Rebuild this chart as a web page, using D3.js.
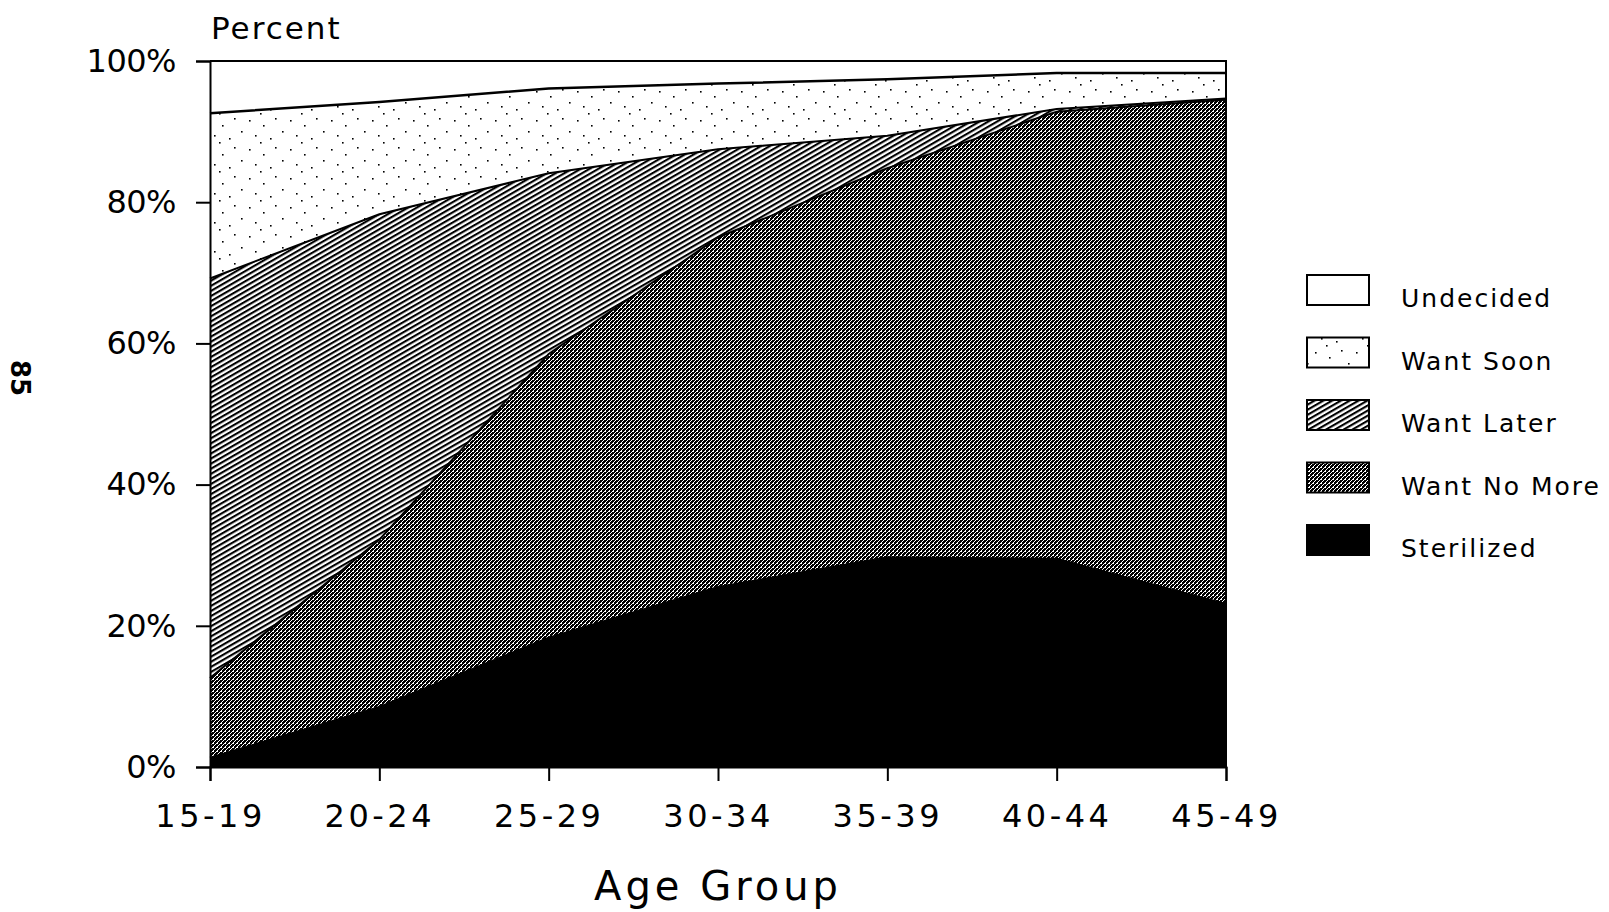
<!DOCTYPE html>
<html>
<head>
<meta charset="utf-8">
<script src="https://cdn.jsdelivr.net/npm/d3@7/dist/d3.min.js"></script>
<style>
  body { margin: 0; background: #fff; }
  text { font-family: "DejaVu Sans", sans-serif; fill: #000; }
</style>
</head>
<body>
<script>
// age groups along the x axis
const ageGroups = ["15-19", "20-24", "25-29", "30-34", "35-39", "40-44", "45-49"];

// percent of women in each group
const sterilized = [1.3, 8.5, 18.3, 25.5, 29.7, 29.5, 23.1];
const wantNoMore = [11.3, 23.7, 40.2, 49.5, 55.1, 63.3, 71.4];
const wantLater  = [56.6, 46.1, 25.6, 12.5, 4.6, 0.4, 0.2];
const wantSoon   = [23.4, 15.9, 12.0, 9.3, 8.0, 5.1, 3.6];
const undecided  = [7.4, 5.8, 3.9, 3.2, 2.6, 1.7, 1.7];

const categories = ["Sterilized", "Want No More", "Want Later", "Want Soon", "Undecided"];
const yTicks = [0, 20, 40, 60, 80, 100];

const series = {
  "Sterilized": sterilized,
  "Want No More": wantNoMore,
  "Want Later": wantLater,
  "Want Soon": wantSoon,
  "Undecided": undecided
};
const table = ageGroups.map((age, i) => {
  const row = {age: age};
  categories.forEach(c => row[c] = series[c][i]);
  return row;
});

const width = 1609;
const height = 912;
const plot = {left: 210, right: 1226, top: 61, bottom: 767};

const svg = d3.select("body").append("svg")
  .attr("width", width)
  .attr("height", height);

// fill patterns, mimicking the black & white print
const defs = svg.append("defs");

const dots = defs.append("pattern")
  .attr("id", "p-soon")
  .attr("patternUnits", "userSpaceOnUse")
  .attr("width", 41).attr("height", 29);
dots.append("rect").attr("width", 41).attr("height", 29).attr("fill", "#fff");
[[3, 4], [17, 9], [29, 2], [9, 19], [24, 22], [36, 15], [14, 26]].forEach(p => {
  dots.append("rect").attr("x", p[0]).attr("y", p[1])
    .attr("width", 1.6).attr("height", 1.6).attr("fill", "#000");
});

const hatch = defs.append("pattern")
  .attr("id", "p-later")
  .attr("patternUnits", "userSpaceOnUse")
  .attr("width", 10).attr("height", 4.4)
  .attr("patternTransform", "rotate(-30)");
hatch.append("rect").attr("width", 10).attr("height", 4.4).attr("fill", "#fff");
hatch.append("rect").attr("y", 0).attr("width", 10).attr("height", 2.1).attr("fill", "#000");

const checker = defs.append("pattern")
  .attr("id", "p-nomore")
  .attr("patternUnits", "userSpaceOnUse")
  .attr("width", 4).attr("height", 4);
checker.append("rect").attr("width", 4).attr("height", 4).attr("fill", "#fff");
checker.append("rect").attr("width", 2).attr("height", 2).attr("fill", "#000");
checker.append("rect").attr("x", 2).attr("y", 2).attr("width", 2).attr("height", 2).attr("fill", "#000");
checker.append("rect").attr("x", 2).attr("y", 0).attr("width", 1).attr("height", 1).attr("fill", "#000");
checker.append("rect").attr("x", 0).attr("y", 2).attr("width", 1).attr("height", 1).attr("fill", "#000");
checker.append("rect").attr("x", 3).attr("y", 1).attr("width", 1).attr("height", 1).attr("fill", "#000");

const fills = {
  "Sterilized": "#000",
  "Want No More": "url(#p-nomore)",
  "Want Later": "url(#p-later)",
  "Want Soon": "url(#p-soon)",
  "Undecided": "#fff"
};

const x = d3.scalePoint().domain(ageGroups).range([plot.left, plot.right]);
const y = d3.scaleLinear().domain([0, 100]).range([plot.bottom, plot.top]);

const stacked = d3.stack().keys(categories)(table);

const area = d3.area()
  .x(d => x(d.data.age))
  .y0(d => y(d[0]))
  .y1(d => y(d[1]));

const topLine = d3.line()
  .x(d => x(d.data.age))
  .y(d => y(d[1]));

svg.append("g").selectAll("path")
  .data(stacked)
  .enter().append("path")
  .attr("d", area)
  .attr("fill", d => fills[d.key]);

svg.append("g").selectAll("path")
  .data(stacked.filter(s => s.key !== "Undecided"))
  .enter().append("path")
  .attr("d", topLine)
  .attr("fill", "none")
  .attr("stroke", "#000")
  .attr("stroke-width", d => d.key === "Want Soon" ? 2.5 : 2);

// frame top and right
svg.append("path")
  .attr("d", `M${plot.left},${plot.top}H${plot.right}V${plot.bottom}`)
  .attr("fill", "none")
  .attr("stroke", "#000")
  .attr("stroke-width", 2);

const yAxis = svg.append("g")
  .attr("transform", `translate(${plot.left},0)`)
  .call(d3.axisLeft(y).tickValues(yTicks).tickFormat(d => d + "%").tickSize(14).tickPadding(20));

const xAxis = svg.append("g")
  .attr("transform", `translate(0,${plot.bottom})`)
  .call(d3.axisBottom(x).tickSize(14).tickPadding(23));

[yAxis, xAxis].forEach(g => {
  g.select(".domain").attr("stroke", "#000").attr("stroke-width", 2);
  g.selectAll(".tick line").attr("stroke", "#000").attr("stroke-width", 2);
  g.selectAll("text")
    .style("font-family", "DejaVu Sans, sans-serif")
    .style("font-size", "32px")
    .attr("fill", "#000");
});
yAxis.selectAll("text").style("letter-spacing", "-0.5px");
xAxis.selectAll("text").style("letter-spacing", "3.5px");

svg.append("text")
  .attr("x", 211)
  .attr("y", 39)
  .style("font-size", "31px")
  .style("letter-spacing", "2px")
  .text("Percent");

svg.append("text")
  .attr("x", (plot.left + plot.right) / 2)
  .attr("y", 900)
  .attr("text-anchor", "middle")
  .style("font-size", "40px")
  .style("letter-spacing", "4px")
  .text("Age Group");

// page number on the scanned sheet
svg.append("text")
  .attr("transform", "translate(11,378) rotate(90)")
  .attr("text-anchor", "middle")
  .style("font-size", "26px")
  .style("font-weight", "bold")
  .text("85");

const legendKeys = categories.slice().reverse();
const legend = svg.append("g").attr("id", "legend");

legend.selectAll("rect")
  .data(legendKeys)
  .enter().append("rect")
  .attr("x", 1307)
  .attr("y", (d, i) => 275 + i * 62.5)
  .attr("width", 62)
  .attr("height", 30)
  .attr("fill", d => fills[d])
  .attr("stroke", "#000")
  .attr("stroke-width", 2);

legend.selectAll("text")
  .data(legendKeys)
  .enter().append("text")
  .attr("x", 1401)
  .attr("y", (d, i) => 307 + i * 62.5)
  .style("font-size", "25px")
  .style("letter-spacing", "2px")
  .text(d => d);
</script>
</body>
</html>
